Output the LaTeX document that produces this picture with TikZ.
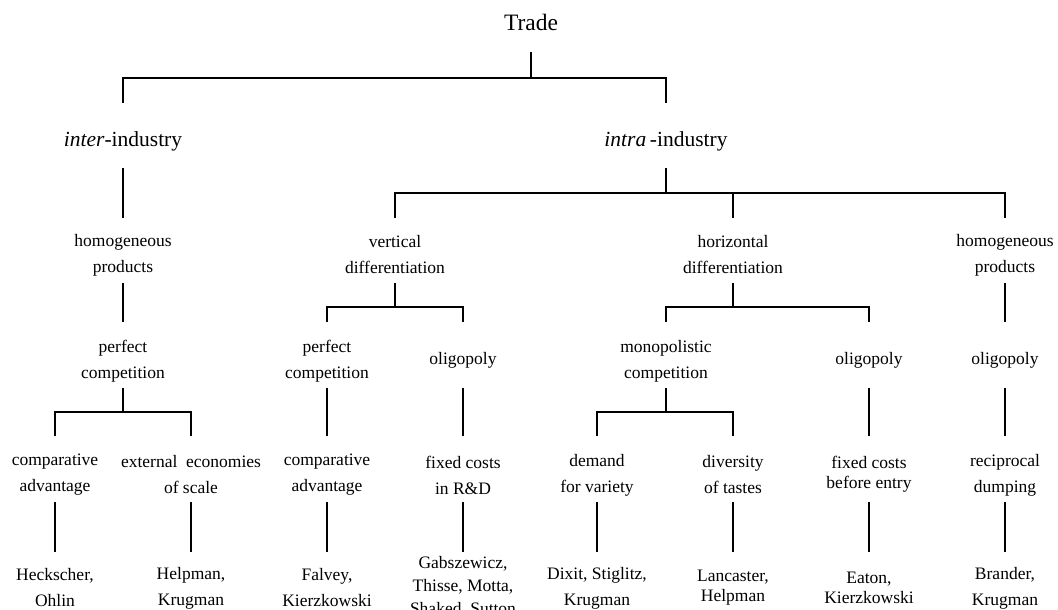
\documentclass[tikz,border=0pt]{standalone}
\usepackage{fontspec}
\setmainfont{Liberation Serif}
\begin{document}
\begin{tikzpicture}[x=1pt,y=-1pt,
  lbl/.style={align=center,font=\fontsize{17.5}{26}\selectfont,inner sep=0pt},
  tight/.style={align=center,font=\fontsize{17.5}{20}\selectfont,inner sep=0pt},
  big/.style={font=\fontsize{21.5}{26}\selectfont,inner sep=0pt},
  conn/.style={line width=1.3pt,line cap=butt}]
\useasboundingbox (0,0) rectangle (1058,610);
% level y coordinates
\coordinate (y52) at (0,52);
\coordinate (y78) at (0,78);
\coordinate (y103) at (0,103);
\coordinate (y168) at (0,168);
\coordinate (y193) at (0,193);
\coordinate (y218) at (0,218);
\coordinate (y283) at (0,283);
\coordinate (y307) at (0,307);
\coordinate (y322) at (0,322);
\coordinate (y388) at (0,388);
\coordinate (y412) at (0,412);
\coordinate (y436) at (0,436);
\coordinate (y502) at (0,502);
\coordinate (y552) at (0,552);
% nodes
\node[font=\fontsize{23.5}{26}\selectfont,inner sep=0pt] (trade) at (531,22) {Trade};
\node[big] (inter) at (123,141) {\textit{inter}-industry};
\node[big] (intra) at (666,141) {\textit{intra}\,-industry};
\node[lbl] (hom1) at (123,255) {homogeneous\\products};
\node[lbl] (vert) at (395,255) {vertical\\differentiation};
\node[lbl] (horiz) at (733,255) {horizontal\\differentiation};
\node[lbl] (hom2) at (1005,255) {homogeneous\\products};
\node[lbl] (pc1) at (123,361) {perfect\\competition};
\node[lbl] (pc2) at (327,361) {perfect\\competition};
\node[lbl] (olig1) at (463,360) {oligopoly};
\node[lbl] (mono) at (666,361) {monopolistic\\competition};
\node[lbl] (olig2) at (869,360) {oligopoly};
\node[lbl] (olig3) at (1005,360) {oligopoly};
\node[lbl] (ca1) at (55,475) {comparative\\advantage};
\node[lbl] (ees) at (191,475) {external\ \ economies\\of scale};
\node[lbl] (ca2) at (327,475) {comparative\\advantage};
\node[lbl] (fcrd) at (463,475) {fixed costs\\in R\&D};
\node[lbl] (dfv) at (597,475) {demand\\for variety};
\node[lbl] (dot) at (733,475) {diversity\\of tastes};
\node[tight] (fcbe) at (869,474) {fixed costs\\before entry};
\node[lbl] (rd) at (1005,475) {reciprocal\\dumping};
\node[lbl] (ho) at (55,588) {Heckscher,\\Ohlin};
\node[lbl] (hk) at (191,588) {Helpman,\\Krugman};
\node[lbl] (fk) at (327,588) {Falvey,\\Kierzkowski};
\node[align=center,font=\fontsize{17.5}{23}\selectfont,inner sep=0pt] (gt) at (463,587) {Gabszewicz,\\Thisse, Motta,\\Shaked, Sutton};
\node[lbl] (dsk) at (597,588) {Dixit, Stiglitz,\\Krugman};
\node[tight] (lh) at (733,588) {Lancaster,\\Helpman};
\node[tight] (ek) at (869,588) {Eaton,\\Kierzkowski};
\node[lbl] (bk) at (1005,588) {Brander,\\Krugman};
% connectors level 0-1
\draw[conn] (trade |- y52) -- (trade |- y78);
\draw[conn] (inter |- y103) -- (inter |- y78) -- (intra |- y78) -- (intra |- y103);
% level 1-2
\draw[conn] (inter |- y168) -- (hom1 |- y218);
\draw[conn] (intra |- y168) -- (intra |- y193);
\draw[conn] (vert |- y218) -- (vert |- y193) -- (hom2 |- y193) -- (hom2 |- y218);
\draw[conn] (horiz |- y193) -- (horiz |- y218);
% level 2-3
\draw[conn] (hom1 |- y283) -- (pc1 |- y322);
\draw[conn] (vert |- y283) -- (vert |- y307);
\draw[conn] (pc2 |- y322) -- (pc2 |- y307) -- (olig1 |- y307) -- (olig1 |- y322);
\draw[conn] (horiz |- y283) -- (horiz |- y307);
\draw[conn] (mono |- y322) -- (mono |- y307) -- (olig2 |- y307) -- (olig2 |- y322);
\draw[conn] (hom2 |- y283) -- (olig3 |- y322);
% level 3-4
\draw[conn] (pc1 |- y388) -- (pc1 |- y412);
\draw[conn] (ca1 |- y436) -- (ca1 |- y412) -- (ees |- y412) -- (ees |- y436);
\draw[conn] (pc2 |- y388) -- (ca2 |- y436);
\draw[conn] (olig1 |- y388) -- (fcrd |- y436);
\draw[conn] (mono |- y388) -- (mono |- y412);
\draw[conn] (dfv |- y436) -- (dfv |- y412) -- (dot |- y412) -- (dot |- y436);
\draw[conn] (olig2 |- y388) -- (fcbe |- y436);
\draw[conn] (olig3 |- y388) -- (rd |- y436);
% level 4-5
\draw[conn] (ca1 |- y502) -- (ho |- y552);
\draw[conn] (ees |- y502) -- (hk |- y552);
\draw[conn] (ca2 |- y502) -- (fk |- y552);
\draw[conn] (fcrd |- y502) -- (gt |- y552);
\draw[conn] (dfv |- y502) -- (dsk |- y552);
\draw[conn] (dot |- y502) -- (lh |- y552);
\draw[conn] (fcbe |- y502) -- (ek |- y552);
\draw[conn] (rd |- y502) -- (bk |- y552);
\end{tikzpicture}
\end{document}
